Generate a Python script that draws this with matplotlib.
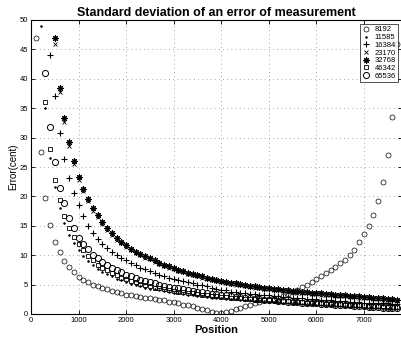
import numpy as np
import matplotlib
matplotlib.use("Agg")
import matplotlib.pyplot as plt

series_labels = ["8192", "11585", "16384", "23170", "32768", "46342", "65536"]
series_start = [100, 200, 400, 500, 500, 300, 300]

s8192 = [47, 27.5, 19.7, 15.1, 12.2, 10.5, 9.0, 8.0, 7.1, 6.3, 5.8, 5.4, 5.0, 4.7, 4.4, 4.2, 3.9, 3.7, 3.5, 3.3,
         3.2, 3.1, 2.9, 2.8, 2.7, 2.6, 2.4, 2.3, 2.1, 2.0, 1.8, 1.6, 1.5, 1.3, 1.1, 0.9, 0.7, 0.4, 0.2, 0.2,
         0.3, 0.5, 0.8, 1.1, 1.3, 1.5, 1.8, 2.0, 2.3, 2.5, 2.6, 2.8, 3.1, 3.4, 3.7, 4.1, 4.6, 5.0, 5.5, 6.0,
         6.5, 7.0, 7.5, 8.0, 8.6, 9.2, 10.0, 10.9, 12.2, 13.6, 15.0, 16.8, 19.2, 22.4, 27.0, 33.5, 46.0]

s11585 = [49, 35, 26.5, 21.6, 18.0, 15.4, 13.5, 12.0, 10.8, 9.8, 9.0, 8.3, 7.7, 7.2, 6.8, 6.4, 6.0, 5.7, 5.4,
          5.1, 4.9, 4.7, 4.5, 4.3, 4.2, 4.0, 3.9, 3.7, 3.6, 3.5, 3.4, 3.3, 3.2, 3.1, 3.0, 2.9, 2.8, 2.75, 2.7,
          2.6, 2.55, 2.5, 2.4, 2.35, 2.3, 2.25, 2.2, 2.15, 2.1, 2.05, 2.0, 1.95, 1.9, 1.85, 1.8, 1.75, 1.7, 1.65,
          1.6, 1.55, 1.5, 1.45, 1.4, 1.35, 1.3, 1.25, 1.2, 1.15, 1.1, 1.05, 1.0, 0.95, 0.9, 0.9, 0.85, 0.8]

s16384 = [44, 37, 30.8, 26.4, 23.1, 20.6, 18.5, 16.6, 15.0, 13.7, 12.7, 11.9, 11.2, 10.6, 10.0, 9.5, 9.1, 8.7,
          8.3, 7.9, 7.6, 7.3, 7.0, 6.7, 6.4, 6.2, 6.0, 5.8, 5.6, 5.4, 5.2, 5.0, 4.9, 4.7, 4.5, 4.3, 4.1, 4.0,
          3.8, 3.7, 3.6, 3.5, 3.4, 3.35, 3.3, 3.25, 3.2, 3.1, 3.0, 2.95, 2.9, 2.8, 2.75, 2.7, 2.6, 2.55, 2.5,
          2.45, 2.4, 2.3, 2.25, 2.2, 2.15, 2.1, 2.05, 2.0, 1.95, 1.9, 1.9, 1.85, 1.8, 1.8, 1.75, 1.7]

s23170 = [46, 37.8, 32.6, 28.6, 25.5, 22.8, 20.9, 19.2, 17.6, 16.5, 15.3, 14.3, 13.4, 12.6, 12.0, 11.4, 10.9,
          10.4, 10.0, 9.6, 9.3, 8.9, 8.5, 8.2, 7.9, 7.6, 7.3, 7.1, 6.8, 6.6, 6.4, 6.2, 6.0, 5.8, 5.6, 5.4, 5.3,
          5.1, 5.0, 4.85, 4.7, 4.6, 4.5, 4.4, 4.3, 4.2, 4.1, 4.0, 3.9, 3.8, 3.7, 3.65, 3.6, 3.5, 3.45, 3.4, 3.3,
          3.25, 3.2, 3.1, 3.05, 3.0, 2.9, 2.85, 2.8, 2.7, 2.65, 2.6, 2.5, 2.45, 2.4, 2.3, 2.25]

s32768 = [47, 38.5, 33.3, 29.2, 26.0, 23.3, 21.3, 19.6, 18.0, 16.8, 15.6, 14.6, 13.7, 12.9, 12.3, 11.7, 11.1,
          10.6, 10.2, 9.8, 9.5, 9.1, 8.7, 8.4, 8.1, 7.8, 7.5, 7.3, 7.0, 6.8, 6.6, 6.4, 6.2, 6.0, 5.8, 5.6, 5.5,
          5.3, 5.2, 5.05, 4.9, 4.8, 4.7, 4.6, 4.5, 4.4, 4.3, 4.2, 4.1, 4.0, 3.9, 3.85, 3.8, 3.7, 3.65, 3.6, 3.5,
          3.45, 3.4, 3.3, 3.25, 3.2, 3.1, 3.05, 3.0, 2.9, 2.85, 2.8, 2.7, 2.65, 2.6, 2.5, 2.45]

s46342 = [36, 28, 22.8, 19.4, 16.6, 14.7, 13.1, 11.9, 10.8, 9.9, 9.1, 8.4, 7.9, 7.4, 7.0, 6.6, 6.2, 5.9, 5.6,
          5.4, 5.1, 4.9, 4.7, 4.5, 4.4, 4.2, 4.1, 3.9, 3.8, 3.7, 3.6, 3.5, 3.4, 3.3, 3.2, 3.1, 3.0, 2.95, 2.9,
          2.8, 2.75, 2.7, 2.6, 2.55, 2.5, 2.45, 2.4, 2.35, 2.3, 2.25, 2.2, 2.15, 2.1, 2.05, 2.0, 1.95, 1.9, 1.85,
          1.8, 1.75, 1.7, 1.7, 1.65, 1.6, 1.55, 1.5, 1.5, 1.45, 1.4, 1.4, 1.35, 1.3, 1.3, 1.25, 1.2]

s65536 = [41, 31.8, 25.9, 21.5, 18.9, 16.3, 14.6, 13.0, 11.9, 11.0, 10.1, 9.5, 8.9, 8.4, 7.9, 7.5, 7.1, 6.7,
          6.4, 6.1, 5.8, 5.6, 5.4, 5.2, 5.0, 4.8, 4.6, 4.5, 4.35, 4.2, 4.05, 3.9, 3.8, 3.7, 3.55, 3.45, 3.35,
          3.25, 3.15, 3.05, 2.95, 2.85, 2.75, 2.7, 2.6, 2.5, 2.45, 2.4, 2.3, 2.25, 2.2, 2.1, 2.05, 2.0, 1.95,
          1.9, 1.85, 1.8, 1.75, 1.7, 1.65, 1.6, 1.55, 1.5, 1.45, 1.4, 1.35, 1.3, 1.25, 1.2, 1.15, 1.1, 1.05,
          1.0, 1.0]

x_ticks = [0, 1000, 2000, 3000, 4000, 5000, 6000, 7000]
y_ticks = [0, 5, 10, 15, 20, 25, 30, 35, 40, 45, 50]

all_values = [s8192, s11585, s16384, s23170, s32768, s46342, s65536]
styles = [
    dict(marker="o", ms=3.6, mfc="none", mew=0.5),
    dict(marker=".", ms=2.5, mew=0.5),
    dict(marker="+", ms=4.2, mew=0.8),
    dict(marker="x", ms=3.2, mew=0.6),
    dict(marker=(8, 2, 0), ms=4.4, mew=0.8),
    dict(marker="s", ms=3.4, mfc="none", mew=0.6),
    dict(marker="o", ms=4.4, mfc="none", mew=0.7),
]

plt.rcParams["font.family"] = ["Liberation Sans", "DejaVu Sans"]
fig = plt.figure(figsize=(4.02, 3.41), dpi=100)
ax = fig.add_axes([31 / 402, 27 / 341, 371 / 402, 294 / 341])

for lab, start, vals, st in zip(series_labels, series_start, all_values, styles):
    pos = np.arange(len(vals)) * 100 + start
    ax.plot(pos, vals, linestyle="none", color="black", mec="black", label=lab, **st)

ax.set_xlim(0, 7800)
ax.set_ylim(0, 50)
ax.set_xticks(x_ticks)
ax.set_yticks(y_ticks)
ax.tick_params(direction="in", length=3, width=0.6, labelsize=5.5, top=True, right=True, pad=2)
ax.grid(True, linestyle=(0, (1, 4)), color="0.55", linewidth=0.6)
for sp in ax.spines.values():
    sp.set_linewidth(0.8)

ax.set_title("Standard deviation of an error of measurement", fontsize=9, fontweight="bold", pad=3)
ax.set_xlabel("Position", fontsize=8, fontweight="bold", labelpad=1)
ax.set_ylabel("Error(cent)", fontsize=7, labelpad=1)

leg = ax.legend(loc="upper right", fontsize=5.5, frameon=True, fancybox=False, edgecolor="black",
                borderpad=0.3, labelspacing=0.05, handlelength=1.0, handletextpad=0.6,
                borderaxespad=0.5, numpoints=1)
leg.get_frame().set_linewidth(0.6)
leg.set_zorder(10)

fig.savefig("out.png", dpi=100)
